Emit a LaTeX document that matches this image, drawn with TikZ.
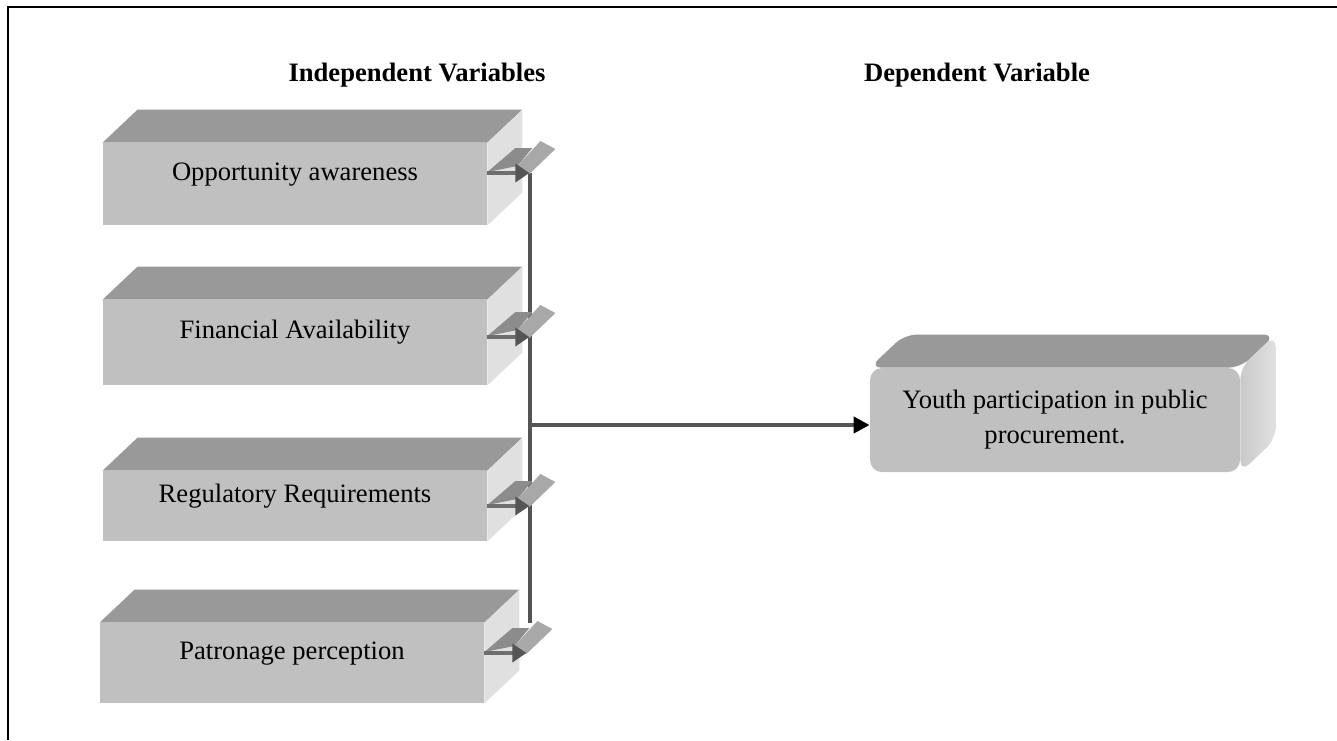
\documentclass[tikz,border=0pt]{standalone}
\usepackage{fontspec}
\setmainfont{Liberation Serif}
\usetikzlibrary{arrows.meta}
\definecolor{frontgray}{HTML}{C0C0C0}
\definecolor{topgray}{HTML}{999999}
\definecolor{sidegray}{HTML}{E0E0E0}
\definecolor{linegray}{HTML}{555555}
\definecolor{shaftgray}{HTML}{6E6E6E}
\definecolor{armgray}{HTML}{8C8C8C}
\definecolor{flapgray}{HTML}{A8A8A8}
\tikzstyle{ivar} = [rectangle, minimum width=192pt, inner sep=0pt, text height=9pt, text depth=13pt, text centered, fill=frontgray, font=\fontsize{13.3}{16}\selectfont]
\tikzstyle{dvar} = [rectangle, rounded corners=6pt, minimum width=185pt, minimum height=52pt, align=center, fill=frontgray, font=\fontsize{13.3}{17.5}\selectfont]
\tikzstyle{heading} = [font=\fontsize{13.3}{16}\selectfont\bfseries]
\tikzstyle{topface} = [fill=topgray]
\tikzstyle{sideface} = [fill=sidegray]
\tikzstyle{armtop} = [fill=armgray]
\tikzstyle{armflap} = [fill=flapgray]
\tikzstyle{arm} = [draw=shaftgray, line width=2pt, -{Triangle[length=7pt,width=9pt,color=linegray]}]
\tikzstyle{bus} = [draw=linegray, line width=2pt]
\tikzstyle{arrow} = [draw=linegray, line width=2pt, -{Triangle[length=8pt,width=8pt,color=black]}]

\begin{document}
\begin{tikzpicture}[x=0.5pt, y=-0.5pt]
\useasboundingbox (0,0) rectangle (1337,740);
\draw[line width=1pt] (8,740) -- (8,7) -- (1337,7);

\node (hind) [heading] at (417,75) {Independent Variables};
\node (hdep) [heading] at (977,75) {Dependent Variable};

\node (opp) [ivar, minimum height=41pt] at (295,184) {Opportunity awareness};
\node (fin) [ivar, minimum height=42.5pt] at (295,342.5) {Financial Availability};
\node (reg) [ivar, minimum height=35pt] at (295,506) {Regulatory Requirements};
\node (pat) [ivar, minimum height=40pt] at (292,663) {Patronage perception};
\node (yp) [dvar] at (1055,420) {Youth participation in public\\procurement.};

\foreach \n in {opp,fin,reg,pat}{
  \fill[topface] (\n.north west) -- ++(35,-33) -- ([shift={(35,-33)}]\n.north east) -- (\n.north east) -- cycle;
  \fill[sideface] (\n.north east) -- ++(35,-33) -- ([shift={(35,-33)}]\n.south east) -- (\n.south east) -- cycle;
}
\fill[topface, rounded corners=6pt] (yp.north west) -- ++(35,-33) -- ([shift={(35,-33)}]yp.north east) -- (yp.north east) -- cycle;
\shade[left color=frontgray!85!white, right color=sidegray, rounded corners=6pt] (yp.north east) -- ++(35,-33) -- ([shift={(35,-33)}]yp.south east) -- (yp.south east) -- cycle;

\coordinate (bustop) at (530,173);
\coordinate (busbot) at (530,623);
\coordinate (hub) at (530,425);
\draw[bus] (bustop) -- (busbot);

\foreach \n/\y in {opp/173,fin/337,reg/506,pat/653}{
  \path (\n.east |- 0,\y) ++(42,0) coordinate (\n-in);
  \fill[armtop, shift={(\n.east |- \n-in)}] (0,-1) -- (28,-25) -- (45,-25) -- (30,-7) -- cycle;
  \fill[armflap, shift={(\n.east |- \n-in)}] (30,-7) -- (53,-32) -- (68,-24) -- (42,1) -- cycle;
  \draw[arm] (\n.east |- \n-in) -- (\n-in);
}

\draw[arrow] (hub) -- (hub -| yp.west);
\end{tikzpicture}
\end{document}
